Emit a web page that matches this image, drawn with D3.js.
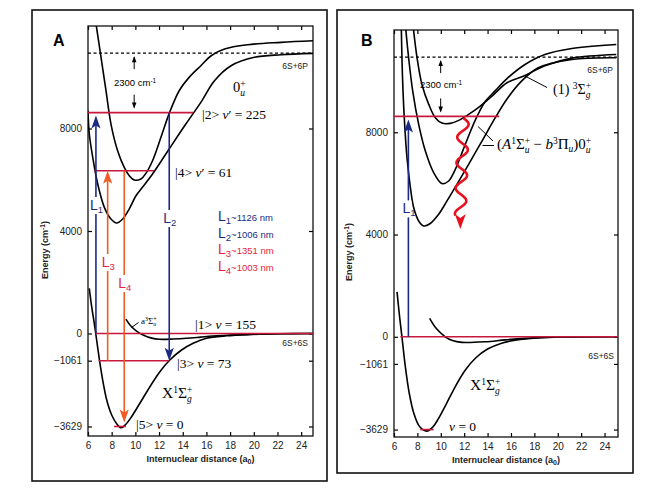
<!DOCTYPE html>
<html>
<head>
<meta charset="utf-8">
<script src="https://cdn.jsdelivr.net/npm/d3@7"></script>
<style>
body { margin: 0; background: #fff; }
text { font-family: "Liberation Sans", Arial, sans-serif; }
</style>
</head>
<body>
<svg id="chart" width="653" height="490"></svg>
<script>
// potential curves of Cs2: [r (a0), E (cm-1)]
const xTicks = [6, 8, 10, 12, 14, 16, 18, 20, 22, 24]
const yTicks = [-3629, -1061, 0, 4000, 8000]

const groundA = [[6.11,1764],[6.31,1046],[6.53,398],[6.73,-254],[7.01,-1163],[7.29,-1943],[7.58,-2595],[8.0,-3180],[8.42,-3520],[8.8,-3680],[9.2,-3540],[9.68,-3246],[10.38,-2723],[11.23,-2076],[12.07,-1490],[12.91,-1034],[13.9,-644],[14.88,-382],[16.0,-187],[17.7,-90],[19.7,-40],[22,-12],[25,0]]
const tripletA = [[9.2,560],[9.6,300],[10.1,90],[10.66,-59],[11.3,-170],[12.07,-226],[13.2,-215],[14.32,-187],[15.5,-140],[16.5,-98],[18.8,-47],[21,-15],[25,0]]
const upper0uA = [[6.67,12100],[7.10,10777],[7.52,9474],[7.94,8174],[8.5,7133],[9.06,6485],[9.5,6150],[9.91,5989],[10.47,6028],[10.89,6250],[11.45,6742],[12.16,7655],[12.86,8591],[13.7,9474],[14.54,9996],[15.53,10449],[16.4,10839],[17.53,11100],[19.49,11268],[22.3,11362],[25,11424]]
const lower0uA = [[6.0,8700],[6.11,7784],[6.4,6875],[6.82,5833],[7.38,4924],[7.94,4467],[8.42,4311],[8.93,4467],[9.48,4857],[10.05,5377],[10.6,5704],[11.45,6223],[12.85,7199],[14.26,8174],[15.53,9021],[16.68,9864],[18.08,10449],[20.05,10777],[22.3,10878],[25,10932]]

const groundB = [[6.26,1758],[6.45,900],[6.68,0],[6.95,-1100],[7.3,-2200],[7.7,-3000],[8.2,-3520],[8.8,-3690],[9.3,-3540],[9.8,-3200],[10.5,-2600],[11.3,-1900],[12.1,-1300],[13.0,-820],[14.0,-480],[15.2,-250],[16.5,-120],[18.2,-45],[20.5,-10],[25,0]]
const tripletB = [[9.05,719],[9.6,330],[10.38,0],[11.0,-150],[11.81,-219],[13.8,-195],[15.5,-120],[17.2,-63],[20,-10],[25,0]]
const lower0uB = [[6.62,12215],[6.68,10914],[6.77,9609],[6.91,8309],[7.11,7008],[7.4,5836],[7.68,5055],[8.11,4531],[8.54,4336],[9.1,4430],[9.82,4793],[10.53,5313],[11.38,5965],[12.38,6746],[13.52,7656],[14.66,8570],[15.66,9300],[16.8,9950],[18.33,10523],[21.2,10848],[25,10914]]
const upper0uB = [[6.97,12215],[7.25,10914],[7.6,9609],[8.11,8309],[8.68,7266],[9.39,6422],[10.1,5992],[10.67,6094],[11.24,6550],[11.9,7300],[12.55,8050],[13.1,8620],[13.8,9200],[14.66,9630],[15.66,10100],[17.2,10652],[18.9,11043],[21.2,11277],[25,11433]]
const sigmaGB = [[7.62,12215],[7.97,10914],[8.39,9871],[8.97,9090],[9.53,8570],[10.1,8359],[10.81,8348],[11.53,8465],[12.38,8699],[13.38,9023],[14.38,9414],[15.66,9938],[17.2,10223],[18.9,10600],[21.2,10900],[25,11043]]

const asymptoteP = 10940   // 6S+6P
const levelE = [8620, 6352, 0, -1061, -3629]
const levelSpanA = [[6, 14.88], [6.53, 11.59], [6.65, 25], [6.9, 12.83], [8.2, 9.2]]
const levelSpanB = [[6, 15.0], null, [6.54, 25.2], null, [8.25, 9.39]]

const transNames = ['1', '2', '3', '4']
const transR = [6.67, 12.86, 7.66, 9.06]
const transFrom = [0, 8620, -1061, 6352]
const transTo = [8620, -1061, 6352, -3629]
const wavelengths = ['~1126 nm', '~1006 nm', '~1351 nm', '~1003 nm']

const blue = '#1c2a85', orange = '#f15a24', red = '#e5243b', level = '#c8193c'

let svg = d3.select('#chart')

function richText(sel, x, y, pieces, size, anchor) {
    let t = sel.append('text').attr('x', x).attr('y', y)
        .attr('font-size', size).attr('text-anchor', anchor || 'start')
    let base = 0
    pieces.forEach(p => {
        let s = p.shift || 0
        let ts = t.append('tspan').attr('dy', s - base).text(p.t)
        if (p.dx) ts.attr('dx', p.dx)
        if (p.size) ts.attr('font-size', p.size)
        if (p.italic) ts.attr('font-style', 'italic')
        if (p.serif) ts.attr('font-family', '"Liberation Serif", "DejaVu Serif", serif')
        if (p.fill) ts.attr('fill', p.fill)
        base = s
    })
    return t
}

// stacked sub/superscript after a symbol, e.g. Σ with g below and + above
let stack = (sup, sub, size) => [
    {t: sup, serif: true, size: size, shift: -5},
    {t: sub, serif: true, italic: true, size: size, shift: 4, dx: -0.564 * size}]

function panel(cfg) {
    let g = svg.append('g')
    g.append('rect').attr('x', cfg.frame[0]).attr('y', cfg.frame[1])
        .attr('width', cfg.frame[2]).attr('height', cfg.frame[3])
        .attr('fill', 'none').attr('stroke', '#111').attr('stroke-width', 1.6)

    let x = d3.scaleLinear().domain(cfg.xDomain).range([cfg.left, cfg.right])
    let y = d3.scaleLinear().domain(cfg.yDomain).range([cfg.bottom, cfg.top])

    g.append('clipPath').attr('id', 'clip' + cfg.id).append('rect')
        .attr('x', cfg.left).attr('y', cfg.top)
        .attr('width', cfg.right - cfg.left).attr('height', cfg.bottom - cfg.top)

    // axes, ticks pointing inward
    let ax = g.append('g').attr('font-size', 9)
    ax.append('g').attr('transform', `translate(0,${cfg.bottom})`)
        .call(d3.axisBottom(x).tickValues(xTicks).tickSize(-4).tickPadding(6))
    ax.append('g').attr('transform', `translate(0,${cfg.top})`)
        .call(d3.axisTop(x).tickValues(xTicks).tickSize(-4).tickFormat(''))
    ax.append('g').attr('transform', `translate(${cfg.left},0)`)
        .call(d3.axisLeft(y).tickValues(yTicks).tickSize(-4).tickPadding(6).tickFormat(d3.format('d')))
    ax.append('g').attr('transform', `translate(${cfg.right},0)`)
        .call(d3.axisRight(y).tickValues(yTicks).tickSize(-4).tickFormat(''))
    ax.selectAll('.domain').remove()
    ax.selectAll('text').attr('fill', '#222').attr('font-family', '"Liberation Sans", Arial, sans-serif')
    ax.selectAll('line').attr('stroke-width', 1.2)

    g.append('rect').attr('x', cfg.left).attr('y', cfg.top)
        .attr('width', cfg.right - cfg.left).attr('height', cfg.bottom - cfg.top)
        .attr('fill', 'none').attr('stroke', '#111').attr('stroke-width', 1.3)

    // axis titles
    richText(g, (cfg.left + cfg.right) / 2, cfg.bottom + 26,
        [{t: 'Internuclear distance (a'}, {t: '0', size: 7, shift: 2}, {t: ')', shift: 0}], 9, 'middle')
        .attr('font-weight', 'bold').attr('fill', '#222')
    richText(g, 0, 0, [{t: 'Energy (cm'}, {t: '-1', size: 6.5, shift: -3}, {t: ')', shift: 0}], 9, 'middle')
        .attr('font-weight', 'bold').attr('fill', '#222')
        .attr('transform', `translate(${cfg.yTitleX},${cfg.yTitleY}) rotate(-90)`)

    g.append('text').attr('x', cfg.labelX).attr('y', cfg.frame[1] + 36)
        .attr('font-size', 16).attr('font-weight', 'bold').text(cfg.id)

    let plot = g.append('g').attr('clip-path', `url(#clip${cfg.id})`)
    return {g, plot, x, y}
}

let line = (x, y) => d3.line().x(d => x(d[0])).y(d => y(d[1])).curve(d3.curveCatmullRom.alpha(0.5))

function drawCurves(p, curves) {
    p.plot.selectAll('path.pec').data(curves).enter().append('path')
        .attr('class', 'pec')
        .attr('d', line(p.x, p.y))
        .attr('fill', 'none').attr('stroke', '#000').attr('stroke-width', 1.6)
}

function dashed(p) {
    p.plot.append('line').attr('x1', p.x.range()[0]).attr('x2', p.x.range()[1])
        .attr('y1', p.y(asymptoteP)).attr('y2', p.y(asymptoteP))
        .attr('stroke', '#000').attr('stroke-width', 1.3).attr('stroke-dasharray', '3,2.5')
}

function levels(p, spans) {
    spans.forEach((s, i) => {
        if (!s) return
        p.plot.append('line').attr('x1', p.x(s[0])).attr('x2', p.x(s[1]))
            .attr('y1', p.y(levelE[i])).attr('y2', p.y(levelE[i]))
            .attr('stroke', level).attr('stroke-width', 1.6)
    })
}

function arrow(g, px, y0, y1, color) {
    let dir = y1 < y0 ? 1 : -1   // 1 means pointing up
    let len = 13, hw = 4.6
    g.append('line').attr('x1', px).attr('x2', px).attr('y1', y0).attr('y2', y1 + dir * 8)
        .attr('stroke', color).attr('stroke-width', 1.6)
    g.append('path')
        .attr('d', `M${px},${y1} L${px + hw},${y1 + dir * len} L${px},${y1 + dir * (len - 3)} L${px - hw},${y1 + dir * len} Z`)
        .attr('fill', color)
}

function doubleArrow(g, px, yTop, yBot) {
    g.append('line').attr('x1', px).attr('x2', px).attr('y1', yTop + 4).attr('y2', yTop + 16).attr('stroke', '#000').attr('stroke-width', 1)
    g.append('line').attr('x1', px).attr('x2', px).attr('y1', yBot - 18).attr('y2', yBot - 5).attr('stroke', '#000').attr('stroke-width', 1)
    g.append('path').attr('d', `M${px},${yTop + 3} l2.3,6 l-4.6,0 Z`).attr('fill', '#000')
    g.append('path').attr('d', `M${px},${yBot - 4} l2.3,-6 l-4.6,0 Z`).attr('fill', '#000')
}

function transLabel(g, cx, cy, name, color) {
    // gap in the arrow behind the label
    g.append('rect').attr('x', cx - 3).attr('y', cy - 8).attr('width', 6).attr('height', 17).attr('fill', '#fff')
    richText(g, cx - 6, cy + 5, [{t: 'L'}, {t: name, size: 9.5, shift: 3}], 14).attr('fill', color)
}

// ---------------- panel A ----------------
let A = panel({id: 'A', frame: [32, 10, 295, 471], left: 88, right: 313, top: 26, bottom: 436,
    xDomain: [6, 25], yDomain: [-4000, 12000], yTitleX: 48, yTitleY: 250, labelX: 53})

dashed(A)
drawCurves(A, [groundA, tripletA, upper0uA, lower0uA])
levels(A, levelSpanA)

let arrowsA = A.g.append('g')
let tipGap = [3, 0, 0, 4]
transNames.forEach((n, i) => {
    let c = i < 2 ? blue : orange
    let y0 = A.y(transFrom[i]), y1 = A.y(transTo[i])
    arrow(arrowsA, A.x(transR[i]), y0, y1 + (y1 < y0 ? tipGap[i] : -tipGap[i]), c)
})
let labelE = [5014, 4506, 2790, 1970]
transNames.forEach((n, i) => transLabel(arrowsA, A.x(transR[i]), A.y(labelE[i]), n, i < 2 ? blue : red))

doubleArrow(A.g, A.x(9.9), A.y(asymptoteP), A.y(levelE[0]))
richText(A.g, 114, 86, [{t: '2300 cm'}, {t: '-1', size: 6.5, shift: -3}], 9.5)

// legend
wavelengths.forEach((w, i) => {
    richText(A.g, 218, 221 + i * 16.6, [{t: 'L'}, {t: transNames[i], size: 9.5, shift: 3}, {t: w, size: 9.5, shift: 0}], 14)
        .attr('fill', i < 2 ? blue : red)
})

let serif = true
richText(A.g, 202, 119, [{t: '|2> ', serif}, {t: 'v', serif, italic: true}, {t: '′  =  225', serif}], 13.5)
richText(A.g, 175, 177, [{t: '|4> ', serif}, {t: 'v', serif, italic: true}, {t: '′  =  61', serif}], 13.5)
richText(A.g, 195, 329, [{t: '|1>  ', serif}, {t: 'v', serif, italic: true}, {t: '  =  155', serif}], 13.5)
richText(A.g, 177, 368, [{t: '|3>  ', serif}, {t: 'v', serif, italic: true}, {t: '  =  73', serif}], 13.5)
richText(A.g, 136, 429, [{t: '|5>  ', serif}, {t: 'v', serif, italic: true}, {t: '  =  0', serif}], 13.5)
richText(A.g, 162, 398, [{t: 'X', serif}, {t: '1', serif, size: 9.5, shift: -5}, {t: 'Σ', serif, shift: 0}]
    .concat(stack('+', 'g', 9.5)), 15.5)
richText(A.g, 233, 92, [{t: '0', serif}].concat(stack('+', 'u', 9.5)), 14.5)
richText(A.g, 141, 324, [{t: 'a', serif}, {t: '3', serif, size: 6, shift: -3}, {t: 'Σ', serif, shift: 0},
    {t: '+', serif, size: 6, shift: -3}, {t: 'u', serif, italic: true, size: 6, shift: 2, dx: -3.4}], 9)
A.g.append('line').attr('x1', 131.5).attr('y1', 327.5).attr('x2', 138.5).attr('y2', 322.5).attr('stroke', '#000')
A.g.append('text').attr('x', 308).attr('y', 69).attr('font-size', 8.5).attr('text-anchor', 'end').attr('fill', '#222').text('6S+6P')
A.g.append('text').attr('x', 308).attr('y', 346).attr('font-size', 8.5).attr('text-anchor', 'end').attr('fill', '#222').text('6S+6S')

// ---------------- panel B ----------------
let B = panel({id: 'B', frame: [337, 10, 296, 463], left: 394, right: 618, top: 30, bottom: 437,
    xDomain: [6, 25.15], yDomain: [-3920, 12000], yTitleX: 352, yTitleY: 252, labelX: 361})

dashed(B)
drawCurves(B, [groundB, tripletB, lower0uB, upper0uB, sigmaGB])
levels(B, levelSpanB)

let arrowsB = B.g.append('g')
arrow(arrowsB, B.x(7.23), B.y(0), B.y(levelE[0]) + 3, blue)
transLabel(arrowsB, B.x(7.23), B.y(5022), '1', blue)

doubleArrow(B.g, B.x(9.99), B.y(asymptoteP), B.y(levelE[0]))
richText(B.g, 420, 88, [{t: '2300 cm'}, {t: '-1', size: 6.5, shift: -3}], 9.5)

// spontaneous decay, wavy arrow
let wave = d3.range(0, 98, 0.5).map(t => [463.3 - t * 0.03 + 5.5 * Math.sin(2 * Math.PI * t / 25.5), 118 + t])
B.g.append('path').attr('d', d3.line()(wave)).attr('fill', 'none').attr('stroke', '#e8101e').attr('stroke-width', 2.6)
B.g.append('path').attr('d', 'M460.3,229 l5.5,-15 l-5.5,4 l-5.5,-4 Z').attr('fill', '#e8101e')

richText(B.g, 553, 94, [{t: '(1) ', serif}, {t: '3', serif, size: 9.5, shift: -5}, {t: 'Σ', serif, shift: 0}]
    .concat(stack('+', 'g', 9.5)), 14)
B.g.append('line').attr('x1', 525).attr('y1', 76).attr('x2', 547).attr('y2', 87.5).attr('stroke', '#000')
richText(B.g, 497, 149, [{t: '(', serif}, {t: 'A', serif, italic: true}, {t: '1', serif, size: 9.5, shift: -5}, {t: 'Σ', serif, shift: 0}]
    .concat(stack('+', 'u', 9.5))
    .concat([{t: '  −  ', serif, shift: 0}, {t: 'b', serif, italic: true}, {t: '3', serif, size: 9.5, shift: -5}, {t: 'Π', serif, shift: 0},
        {t: 'u', serif, italic: true, size: 9.5, shift: 3}, {t: ')0', serif, shift: 0}])
    .concat(stack('+', 'u', 9.5)), 15)
B.g.append('line').attr('x1', 478).attr('y1', 126.5).attr('x2', 493).attr('y2', 141).attr('stroke', '#000')
B.g.append('line').attr('x1', 482.5).attr('y1', 145.5).attr('x2', 494).attr('y2', 145.5).attr('stroke', '#000')
richText(B.g, 470, 390, [{t: 'X', serif}, {t: '1', serif, size: 9.5, shift: -5}, {t: 'Σ', serif, shift: 0}]
    .concat(stack('+', 'g', 9.5)), 15.5)
richText(B.g, 449, 431, [{t: 'v', serif, italic: true}, {t: '  =  0', serif}], 13.5)
B.g.append('text').attr('x', 613).attr('y', 73).attr('font-size', 8.5).attr('text-anchor', 'end').attr('fill', '#222').text('6S+6P')
B.g.append('text').attr('x', 614).attr('y', 359).attr('font-size', 8.5).attr('text-anchor', 'end').attr('fill', '#222').text('6S+6S')
</script>
</body>
</html>
